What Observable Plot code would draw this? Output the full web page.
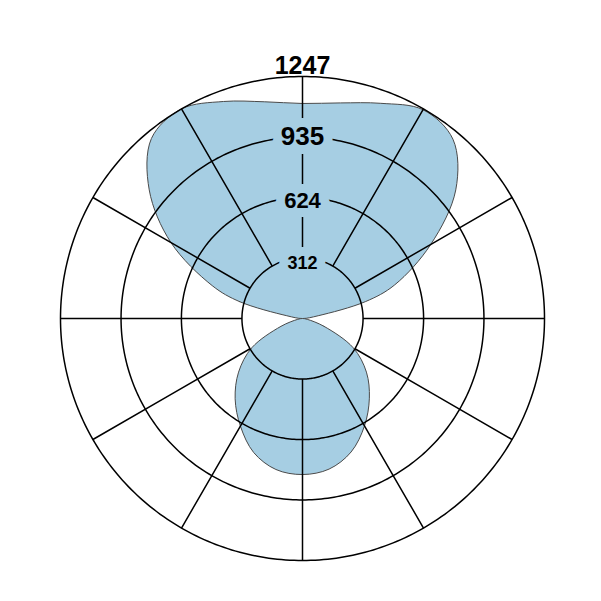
<!DOCTYPE html>
<html>
<head>
<meta charset="utf-8">
<script src="https://cdn.jsdelivr.net/npm/d3@7"></script>
<script src="https://cdn.jsdelivr.net/npm/@observablehq/plot@0.6"></script>
<style>
  html, body { margin: 0; padding: 0; background: #fff; }
  #chart { width: 601px; height: 601px; }
</style>
</head>
<body>
<div id="chart"></div>
<script>
// Direction (degrees clockwise from top) and read value of the pattern
const angles = [0, 10, 20, 30, 40, 50, 60, 70, 75, 80, 90, 100, 110, 120, 130, 140, 150, 160, 170,
                180, 190, 200, 210, 220, 230, 240, 250, 260, 270, 280, 285, 290, 300, 310, 320, 330, 340, 350];
const values = [1108, 1128, 1180, 1242, 1206, 1031, 763, 505, 335, 82, 0, 25, 118, 302, 430, 536, 639, 732, 788,
                804, 790, 735, 640, 540, 430, 302, 118, 25, 0, 82, 335, 495, 783, 1031, 1211, 1247, 1190, 1134];
// Radial ticks (rings) and spoke directions
const ticks = [312, 624, 935, 1247];
const spokeAngles = [0, 30, 60, 90, 120, 150, 180, 210, 240, 270, 300, 330];

const MAX = ticks[ticks.length - 1];
const DEG = 60;                       // angular radius used for the outer ring
const lat = (v) => 90 - (v / MAX) * DEG;
const lon = (a) => 180 - a;
const fillColor = "#a6cee3";

// split the pattern into its front and rear lobes (each closed through the centre)
const rows = angles.map((a, i) => ({
  angle: a,
  value: values[i],
  lobe: (a <= 90 || a > 270) ? "front" : "rear",
  order: a > 270 ? a - 360 : a
}));
rows.sort((p, q) => d3.ascending(p.lobe, q.lobe) || d3.ascending(p.order, q.order));

const labelStyle = {
  312: {fontSize: 18, dy: 5, halo: true},
  624: {fontSize: 22, dy: 4, halo: true},
  935: {fontSize: 26, dy: 0, halo: true},
  1247: {fontSize: 25, dy: -3, halo: false}
};

const labelMarks = ticks.map((t) => {
  const s = labelStyle[t];
  return Plot.text([t], {
    x: 180,
    y: (d) => lat(d),
    text: (d) => String(d),
    fontSize: s.fontSize,
    fontWeight: "bold",
    fill: "black",
    lineAnchor: s.halo ? "middle" : "bottom",
    dy: s.dy,
    ...(s.halo ? {stroke: fillColor, strokeWidth: 18, strokeLinejoin: "round"} : {})
  });
});

const chart = Plot.plot({
  width: 601,
  height: 601,
  marginLeft: 60,
  marginRight: 57,
  marginTop: 76,
  marginBottom: 41,
  projection: {
    type: "azimuthal-equidistant",
    rotate: [0, -90],
    domain: d3.geoCircle().center([0, 90]).radius(DEG)()
  },
  style: {fontFamily: "'Liberation Sans', Arial, Helvetica, sans-serif", background: "white", color: "black"},
  marks: [
    Plot.line(rows, {
      x: (d) => lon(d.angle),
      y: (d) => lat(d.value),
      z: "lobe",
      curve: "catmull-rom-closed",
      fill: fillColor,
      stroke: "#4a4a4a",
      strokeWidth: 1
    }),
    Plot.geo(ticks, {
      geometry: (t) => d3.geoCircle().center([0, 90]).radius((t / MAX) * DEG).precision(1)(),
      fill: "none",
      stroke: "black",
      strokeWidth: 1.5
    }),
    Plot.link(spokeAngles, {
      x1: (a) => lon(a),
      y1: lat(ticks[0]),
      x2: (a) => lon(a),
      y2: lat(MAX),
      stroke: "black",
      strokeWidth: 1.5
    }),
    ...labelMarks
  ]
});

document.getElementById("chart").appendChild(chart);
</script>
</body>
</html>
